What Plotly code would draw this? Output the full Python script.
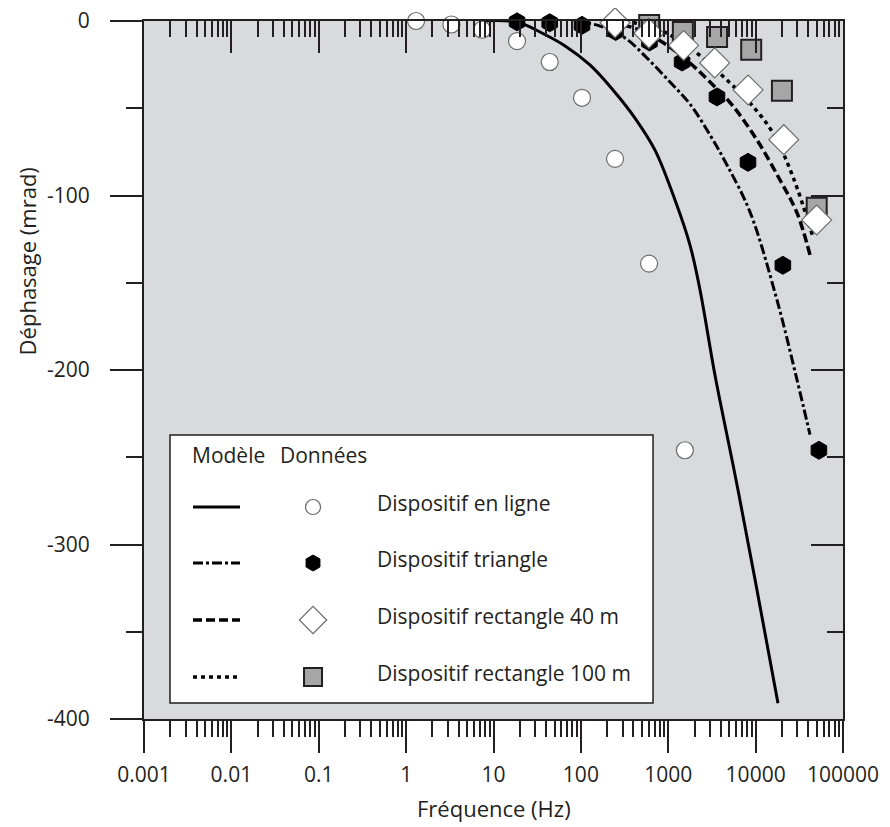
import plotly.graph_objects as go

# ---- data ----
# measured points
f_ligne = [1.3, 3.3, 7.4, 18.6, 44, 103, 246, 603, 1550]
phi_ligne = [0, -2, -5, -11.5, -23.5, -44, -79, -139, -246]

f_tri = [18.6, 44, 103, 250, 610, 1440, 3610, 8180, 20500, 53000]
phi_tri = [-0.5, -1, -2.5, -6, -12, -23.5, -43.5, -81, -140, -246]

f_rect40 = [44, 103, 246, 600, 1500, 3400, 8200, 21000, 50000]
phi_rect40 = [2, 0.5, -1, -7, -14, -24, -39.5, -68, -114]

f_rect100 = [98, 257, 605, 1470, 3620, 8900, 20000, 50000]
phi_rect100 = [3, 1.5, -2.3, -6.3, -9.2, -16.5, -40, -107]

# model curves
fm_ligne = [7, 18.6, 34, 66, 127, 233, 416, 705, 1195, 1774, 2308, 3428, 5808, 9840, 18030]
pm_ligne = [0, -0.6, -6.3, -14.3, -25.2, -39.5, -55.6, -74, -102.6, -128.4, -154, -203, -260, -320, -391]

fm_tri = [86, 166, 320, 571, 1047, 1774, 3006, 4700, 8630, 17580, 29780, 41880]
pm_tri = [0, -2.9, -9.7, -21.2, -35, -47.6, -65.3, -82.5, -109.5, -160, -205.7, -237]

fm_rect40 = [215, 475, 968, 1774, 3006, 5370, 10370, 19010, 29780, 41880]
pm_rect40 = [-0.6, -5.2, -13.8, -24.1, -35, -48.1, -68.2, -91.1, -110, -134]

fm_rect100 = [320, 805, 1920, 5090, 8630, 15800, 26800, 45400]
pm_rect100 = [0, -5.2, -16.6, -35.5, -47, -64.2, -89.4, -124]

x_ticks = [0.001, 0.01, 0.1, 1, 10, 100, 1000, 10000, 100000]
x_ticktext = ["0.001", "0.01", "0.1", "1", "10", "100", "1000", "10000", "100000"]
y_ticks = [0, -100, -200, -300, -400]
y_ticktext = ["0", "-100", "-200", "-300", "-400"]

labels = ["Dispositif en ligne", "Dispositif triangle",
          "Dispositif rectangle 40 m", "Dispositif rectangle 100 m"]

FONT = "Open Sans"
INK = "#231f20"
BG = "#d9dadc"

line_styles = [
    dict(color="black", width=3, dash="solid"),
    dict(color="black", width=3, dash="10px,3px,3px,3px"),
    dict(color="black", width=3.5, dash="9px,4px"),
    dict(color="black", width=3.5, dash="4px,4px"),
]
markers = [
    dict(symbol="circle", size=17, color="white", line=dict(color="#6b6b6b", width=1.2)),
    dict(symbol="hexagon", size=18, color="black", line=dict(color="black", width=1)),
    dict(symbol="square", size=20, color="#a6a6a6", line=dict(color="#231f20", width=2)),
    dict(symbol="diamond", size=23, color="white", line=dict(color="#6b6b6b", width=1.2)),
]

fig = go.Figure()

models = [(fm_ligne, pm_ligne), (fm_tri, pm_tri), (fm_rect40, pm_rect40), (fm_rect100, pm_rect100)]
for (fx, fy), ls in zip(models, line_styles):
    fig.add_trace(go.Scatter(x=fx, y=fy, mode="lines", line=dict(shape="spline", smoothing=1, **ls),
                             showlegend=False, hoverinfo="skip"))

# draw order: circles, hexagons, squares, diamonds
pts = [(f_ligne, phi_ligne, markers[0]), (f_tri, phi_tri, markers[1]),
       (f_rect100, phi_rect100, markers[2]), (f_rect40, phi_rect40, markers[3])]
for fx, fy, mk in pts:
    fig.add_trace(go.Scatter(x=fx, y=fy, mode="markers", marker=mk, cliponaxis=False,
                             showlegend=False))

# dummy trace so the mirrored (top/right) axes get drawn
fig.add_trace(go.Scatter(x=[1], y=[-200], xaxis="x2", yaxis="y2", mode="markers",
                         marker=dict(opacity=0), showlegend=False, hoverinfo="skip"))

# ---- hand-made legend ----
lx0, lx1, ly0, ly1 = 0.0372, 0.7282, 0.0229, 0.4069
row_y = [0.3037, 0.2235, 0.1418, 0.0602]
shapes = [dict(type="rect", xref="paper", yref="paper", x0=lx0, x1=lx1, y0=ly0, y1=ly1,
               fillcolor="white", line=dict(color=INK, width=1.5), layer="below")]
for ry, ls in zip(row_y, line_styles):
    shapes.append(dict(type="line", xref="paper", yref="paper", x0=0.0701, x1=0.1373, y0=ry, y1=ry,
                       line=ls, layer="above"))

leg_marks = [markers[0], markers[1], markers[3], markers[2]]
for ry, mk in zip(row_y, leg_marks):
    fig.add_trace(go.Scatter(x=[0.2418], y=[ry], xaxis="x3", yaxis="y3", mode="markers",
                             marker=dict(mk, size=mk["size"] - 2), showlegend=False, hoverinfo="skip"))

annotations = [
    dict(text="Modèle", x=0.0658, y=0.3782, xanchor="left"),
    dict(text="Données", x=0.1917, y=0.3782, xanchor="left"),
]
for ry, lab in zip(row_y, labels):
    annotations.append(dict(text=lab, x=0.3305, y=ry + 0.006, xanchor="left"))
for a in annotations:
    a.update(xref="paper", yref="paper", yanchor="middle", showarrow=False,
             font=dict(family=FONT, size=21, color=INK))

annotations.append(dict(text="Fréquence (Hz)", xref="paper", yref="paper", x=0.5, y=-0.128,
                        xanchor="center", yanchor="middle", showarrow=False,
                        font=dict(family=FONT, size=22, color=INK)))
annotations.append(dict(text="Déphasage (mrad)", xref="paper", yref="paper", x=-0.168, y=0.655,
                        xanchor="center", yanchor="middle", textangle=-90, showarrow=False,
                        font=dict(family=FONT, size=22, color=INK)))

xcommon = dict(type="log", range=[-3, 5], tickmode="array", tickvals=x_ticks, ticktext=x_ticktext,
               showgrid=False, zeroline=False, automargin=False, ticklabeloverflow="allow",
               showline=True, linecolor=INK, linewidth=2, tickcolor=INK, tickwidth=2)
ycommon = dict(range=[-400, 0], tickmode="array", tickvals=y_ticks, ticktext=y_ticktext,
               showgrid=False, zeroline=False, automargin=False, ticklabeloverflow="allow",
               showline=True, linecolor=INK, linewidth=2, tickcolor=INK, tickwidth=2)

# the page body has an 8px margin, so the figure is 8px smaller and shifted
fig.update_layout(
    width=882, height=819,
    margin=dict(l=136, r=47, t=13, b=108),
    paper_bgcolor="white", plot_bgcolor=BG,
    font=dict(family=FONT, size=20, color=INK),
    xaxis=dict(xcommon, ticks="outside", ticklen=32, ticklabelstandoff=4,
               minor=dict(ticks="outside", ticklen=16, dtick="D1", tickcolor=INK, tickwidth=2, showgrid=False),
               tickfont=dict(family=FONT, size=21, color=INK)),
    xaxis2=dict(xcommon, overlaying="x", side="top", anchor="y2", ticks="inside", ticklen=32,
                showticklabels=False,
                minor=dict(ticks="inside", ticklen=16, dtick="D1", tickcolor=INK, tickwidth=2, showgrid=False)),
    yaxis=dict(ycommon, ticks="outside", ticklen=32, ticklabelstandoff=16,
               minor=dict(ticks="outside", ticklen=16, dtick=50, tickcolor=INK, tickwidth=2, showgrid=False),
               tickfont=dict(family=FONT, size=21, color=INK)),
    yaxis2=dict(ycommon, overlaying="y", side="right", anchor="x2", ticks="inside", ticklen=32,
                showticklabels=False,
                minor=dict(ticks="inside", ticklen=16, dtick=50, tickcolor=INK, tickwidth=2, showgrid=False)),
    xaxis3=dict(range=[0, 1], overlaying="x", visible=False, anchor="y3"),
    yaxis3=dict(range=[0, 1], overlaying="y", visible=False, anchor="x3"),
    shapes=shapes,
    annotations=annotations,
)

fig.write_html("out.html")
